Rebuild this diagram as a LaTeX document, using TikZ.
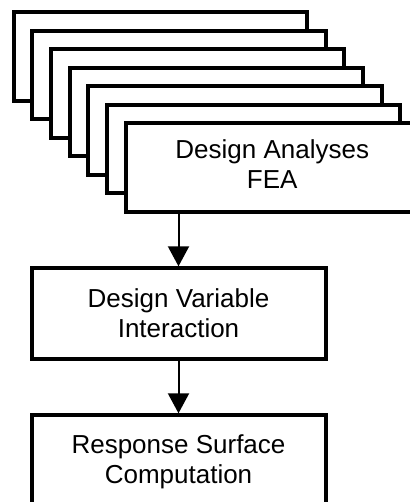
\documentclass[tikz,border=0pt]{standalone}
\usepackage{fontspec}
\setmainfont{Liberation Sans}
\usetikzlibrary{arrows.meta, positioning}

\begin{document}
\begin{tikzpicture}[x=1pt, y=-1pt,
    sheet/.style={draw, fill=white, line width=4pt, minimum width=293.5pt, minimum height=88.5pt, inner sep=0pt},
    box/.style={draw, line width=4pt, minimum width=294pt, minimum height=90.4pt, inner sep=0pt},
    caption/.style={font=\fontsize{26}{30}\selectfont, align=center, inner sep=0pt, anchor=north},
    flow/.style={-{Triangle[length=20pt, width=21pt]}, line width=2pt}]
    % Canvas
    \useasboundingbox[fill=white] (0,0) rectangle (409,502);

    % Stack of analysis sheets, back to front
    \node[sheet] (sheet1) at (160.25,56.75) {};
    \node[sheet] (sheet2) at (178.92,75.17) {};
    \node[sheet] (sheet3) at (197.59,93.59) {};
    \node[sheet] (sheet4) at (216.26,112.01) {};
    \node[sheet] (sheet5) at (234.93,130.43) {};
    \node[sheet] (sheet6) at (253.6,148.85) {};
    \node[sheet] (fea) at (272.27,167.27) {}; % front sheet
    \node[caption] (featext) at ([yshift=27.6pt]fea.center) {Design Analyses\\FEA};

    % Steps below the stack
    \node[box] (dvi) at (178.5,313.5) {};
    \node[caption] (dvitext) at ([yshift=24.6pt]dvi.center) {Design Variable\\Interaction};
    \node[box, below=52.6pt of dvi] (rsc) {};
    \node[caption] (rsctext) at ([yshift=25.6pt]rsc.center) {Response Surface\\Computation};

    % Arrows
    \draw[flow] (dvi.north |- fea.south) -- (dvi.north);
    \draw[flow] (dvi.south) -- (rsc.north);
\end{tikzpicture}
\end{document}
